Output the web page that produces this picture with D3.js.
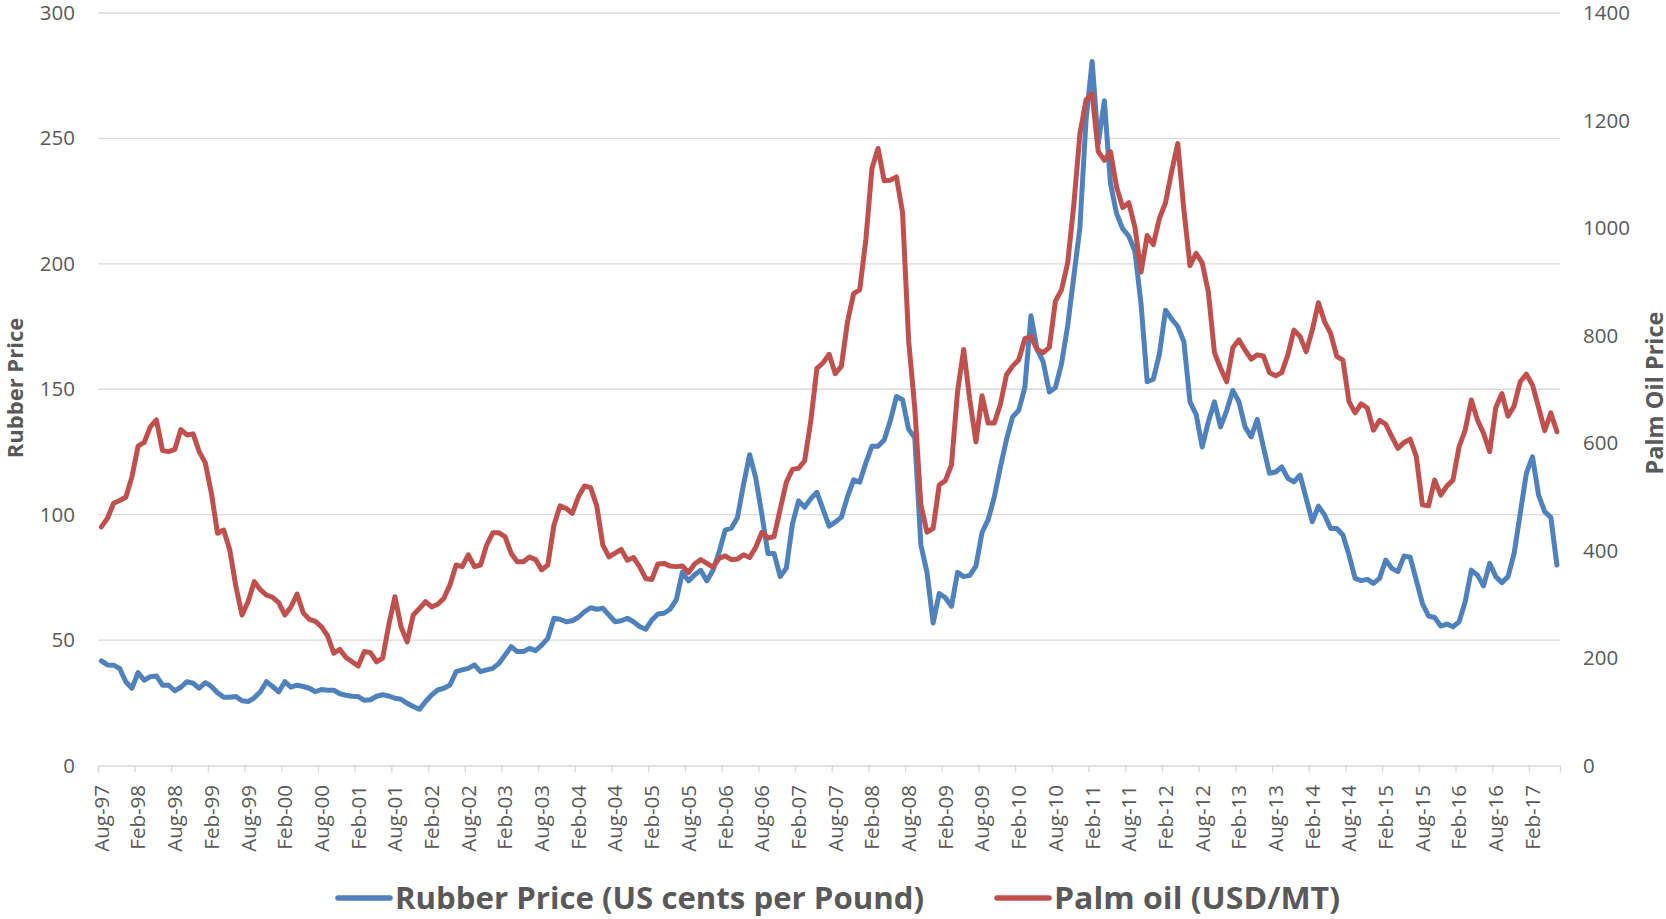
<!DOCTYPE html>
<html>
<head>
<meta charset="utf-8">
<script src="https://cdn.jsdelivr.net/npm/d3@7"></script>
<style>
  body { margin: 0; background: #fff; }
  text { font-family: "Open Sans", sans-serif; fill: #595959; }
</style>
</head>
<body>
<svg id="chart" width="1666" height="919"></svg>
<script>
// monthly series, Aug-97 .. Jun-17
var rubberPrice = [
  41.7, 40.1, 40, 38.7, 33.4, 30.8, 37, 34, 35.4, 35.7, 32, 32,
  29.8, 31.2, 33.4, 32.8, 30.8, 33, 31.5, 29, 27.2, 27.2, 27.5, 25.8,
  25.5, 27, 29.4, 33.4, 31.5, 29.4, 33.4, 31.2, 32, 31.5, 30.8, 29.4,
  30.3, 30, 30, 28.6, 28, 27.6, 27.5, 26, 26.2, 27.6, 28.2, 27.7,
  26.8, 26.4, 24.8, 23.5, 22.4, 25.4, 28.1, 30.1, 30.8, 32.1, 37.4, 38.1,
  38.7, 40.1, 37.4, 38.1, 38.7, 40.7, 44, 47.4, 45.4, 45.4, 46.7, 45.8,
  48, 50.7, 58.7, 58.3, 57.3, 57.7, 59.1, 61.3, 62.9, 62.3, 62.7, 60,
  57.3, 57.7, 58.7, 57.3, 55.4, 54.3, 58, 60.4, 60.7, 62.3, 66, 77,
  73.6, 76, 77.8, 73.6, 77.8, 85, 93.8, 94.6, 98.8, 112, 123.9, 114.7,
  100, 84.5, 84.5, 75.3, 78.7, 96.3, 105.5, 103, 106.4, 108.9, 102.1, 95.4,
  97, 99, 107.2, 113.9, 113, 120.6, 127.3, 127.3, 129.8, 137.4, 147.1, 145.8,
  134, 130.7, 87.9, 77, 56.8, 68.6, 66.9, 63.5, 77, 75.3, 75.8, 79.5,
  92.9, 98, 107, 119, 130, 139, 141.6, 150.8, 179.3, 165.9, 160.9, 148.9,
  150.7, 160.2, 175.3, 194.9, 214.4, 257.2, 280.7, 248, 265, 232, 220, 214,
  211, 205, 184, 153, 154, 164, 181.5, 178, 175, 169, 145, 140,
  127, 137, 145, 135, 141.5, 149.5, 145, 135, 131, 138, 127, 116.5,
  117, 119, 114.5, 113.1, 115.8, 106.5, 97.2, 103.4, 99.9, 94.5, 94.5, 91.9,
  83.9, 74.6, 73.7, 74.2, 72.6, 74.6, 81.9, 78.6, 77.3, 83.5, 83, 73.9,
  64.6, 59.6, 59, 55.6, 56.4, 55.3, 57.3, 65.3, 77.9, 75.9, 71.6, 80.6,
  75.3, 72.9, 75.3, 84.6, 100.5, 116.5, 123.1, 107.8, 101.2, 98.9, 79.9
];
var palmOilPrice = [
  444, 460, 488, 493, 499, 537, 594, 601, 630, 643, 586, 584,
  588, 625, 615, 617, 584, 563, 506, 432, 438, 401, 333, 280,
  305, 342, 327, 317, 313, 303, 280, 295, 319, 284, 272, 268,
  258, 241, 209, 216, 201, 193, 185, 212, 210, 193, 200, 262,
  314, 258, 230, 280, 292, 305, 295, 300, 311, 336, 373, 370,
  392, 370, 373, 410, 433, 433, 426, 395, 379, 379, 388, 383,
  364, 373, 447, 483, 478, 469, 500, 520, 517, 483, 410, 388,
  395, 402, 382, 387, 370, 348, 346, 375, 376, 371, 370, 371,
  359, 375, 383, 376, 369, 385, 390, 383, 384, 392, 387, 406,
  434, 423, 426, 477, 527, 551, 553, 567, 641, 739, 749, 765,
  729, 743, 825, 878, 885, 978, 1111, 1148, 1088, 1089, 1095, 1029,
  790, 665, 485, 434, 441, 522, 530, 559, 696, 774, 680, 602,
  688, 637, 637, 672, 727, 743, 755, 794, 798, 774, 768, 778,
  864, 885, 935, 1043, 1175, 1238, 1250, 1142, 1126, 1142, 1076, 1038,
  1047, 1001, 918, 986, 969, 1018, 1047, 1105, 1157, 1034, 930, 953,
  935, 881, 768, 739, 714, 777, 792, 773, 756, 764, 762, 731,
  725, 731, 764, 810, 798, 770, 810, 861, 826, 804, 761, 754,
  677, 656, 673, 665, 624, 642, 635, 612, 590, 601, 607, 575,
  485, 483, 531, 503, 520, 531, 593, 624, 680, 643, 618, 584,
  666, 692, 650, 669, 714, 728, 708, 666, 623, 656, 621
];
var xTickLabels = ["Aug-97","Feb-98","Aug-98","Feb-99","Aug-99","Feb-00","Aug-00","Feb-01",
  "Aug-01","Feb-02","Aug-02","Feb-03","Aug-03","Feb-04","Aug-04","Feb-05","Aug-05","Feb-06",
  "Aug-06","Feb-07","Aug-07","Feb-08","Aug-08","Feb-09","Aug-09","Feb-10","Aug-10","Feb-11",
  "Aug-11","Feb-12","Aug-12","Feb-13","Aug-13","Feb-14","Aug-14","Feb-15","Aug-15","Feb-16",
  "Aug-16","Feb-17"];
var leftTicks = [0, 50, 100, 150, 200, 250, 300];
var rightTicks = [0, 200, 400, 600, 800, 1000, 1200, 1400];

var svg = d3.select("#chart");
var plotLeft = 98.3, plotRight = 1560, plotTop = 13, plotBottom = 765.5;
var n = rubberPrice.length;

var x = d3.scaleBand().domain(d3.range(n)).range([plotLeft, plotRight]).paddingInner(0).paddingOuter(0);
var bw = x.bandwidth();
var yL = d3.scaleLinear().domain([0, 300]).range([plotBottom, plotTop]);
var yR = d3.scaleLinear().domain([0, 1400]).range([plotBottom, plotTop]);

// gridlines
svg.append("g").selectAll("line")
  .data(leftTicks.slice(1))
  .enter().append("line")
  .attr("x1", plotLeft).attr("x2", plotRight)
  .attr("y1", function(d) { return yL(d); })
  .attr("y2", function(d) { return yL(d); })
  .style("stroke", "#d9d9d9").style("stroke-width", 1.3);

// x axis: ticks at category edges, labels in the middle of the category
var tickIdx = d3.range(0, n, 6);
var xAxis = svg.append("g")
  .attr("transform", "translate(0," + plotBottom + ")")
  .call(d3.axisBottom(x).tickValues(tickIdx).tickSizeOuter(0).tickSize(7)
    .tickFormat(function(d, i) { return xTickLabels[i]; }));
xAxis.select(".domain").style("stroke", "#d9d9d9").style("stroke-width", 1.3);
xAxis.selectAll(".tick line")
  .attr("x1", -bw / 2).attr("x2", -bw / 2)
  .style("stroke", "#d9d9d9").style("stroke-width", 1.3);
xAxis.selectAll(".tick text")
  .attr("transform", "rotate(-90)")
  .attr("text-anchor", "end")
  .attr("x", -19.5).attr("y", 0).attr("dy", "0.36em")
  .style("font-size", "20.5px").style("font-family", "Open Sans").style("fill", "#595959");

// left axis labels
var lAxis = svg.append("g").attr("transform", "translate(75,0)")
  .call(d3.axisLeft(yL).tickValues(leftTicks).tickSize(0).tickPadding(0));
lAxis.select(".domain").remove();
lAxis.selectAll("text").style("font-size", "20.5px").style("font-family", "Open Sans").style("fill", "#595959");

// right axis labels
var rAxis = svg.append("g").attr("transform", "translate(1583,0)")
  .call(d3.axisRight(yR).tickValues(rightTicks).tickSize(0).tickPadding(0)
    .tickFormat(d3.format("d")));
rAxis.select(".domain").remove();
rAxis.selectAll("text").style("font-size", "20.5px").style("font-family", "Open Sans").style("fill", "#595959");

// axis titles
svg.append("text")
  .attr("transform", "translate(23,388) rotate(-90)")
  .attr("text-anchor", "middle")
  .style("font-size", "22px").style("font-weight", "bold")
  .text("Rubber Price");
svg.append("text")
  .attr("transform", "translate(1663,393) rotate(-90)")
  .attr("text-anchor", "middle")
  .style("font-size", "23.5px").style("font-weight", "bold")
  .text("Palm Oil Price");

// series lines
var rubberLine = d3.line()
  .x(function(d, i) { return x(i) + bw / 2; })
  .y(function(d) { return yL(d); });
var palmLine = d3.line()
  .x(function(d, i) { return x(i) + bw / 2; })
  .y(function(d) { return yR(d); });

svg.append("path").datum(rubberPrice)
  .attr("d", rubberLine)
  .style("fill", "none").style("stroke", "#4f81bd").style("stroke-width", 5)
  .style("stroke-linejoin", "round").style("stroke-linecap", "round");
svg.append("path").datum(palmOilPrice)
  .attr("d", palmLine)
  .style("fill", "none").style("stroke", "#c0504d").style("stroke-width", 5)
  .style("stroke-linejoin", "round").style("stroke-linecap", "round");

// legend
var legend = [
  {name: "Rubber Price (US cents per Pound)", color: "#4f81bd", x: 338, w: 529},
  {name: "Palm oil (USD/MT)", color: "#c0504d", x: 997, w: 286}
];
var lg = svg.append("g").selectAll("g").data(legend).enter().append("g");
lg.append("line")
  .attr("x1", function(d) { return d.x; })
  .attr("x2", function(d) { return d.x + 52; })
  .attr("y1", 898).attr("y2", 898)
  .style("stroke", function(d) { return d.color; })
  .style("stroke-width", 5.5).style("stroke-linecap", "round");
lg.append("text")
  .attr("x", function(d) { return d.x + 57; })
  .attr("y", 908.8)
  .attr("textLength", function(d) { return d.w; })
  .attr("lengthAdjust", "spacingAndGlyphs")
  .style("font-size", "31px").style("font-weight", "bold")
  .text(function(d) { return d.name; });
</script>
</body>
</html>
